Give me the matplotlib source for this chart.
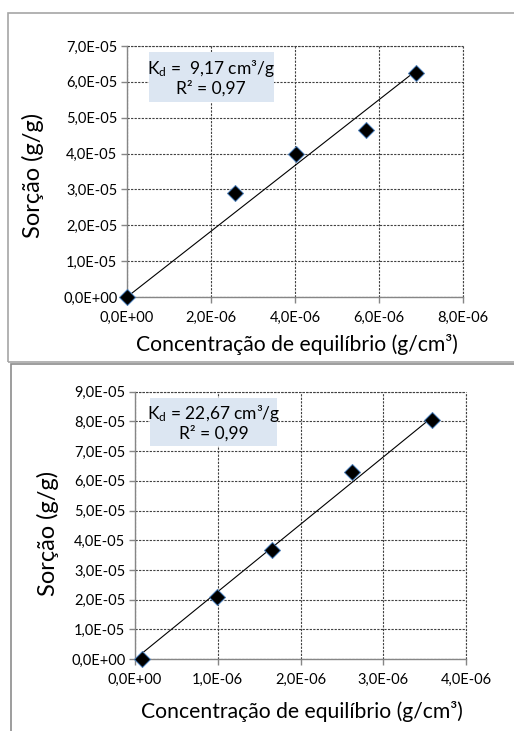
import matplotlib
matplotlib.use('Agg')
import numpy as np
import matplotlib.pyplot as plt
from matplotlib.patches import Rectangle
from matplotlib.ticker import FuncFormatter, MultipleLocator

# data
conc_top = [0.0, 2.58e-6, 4.02e-6, 5.69e-6, 6.88e-6]
sorc_top = [0.0, 2.89e-5, 3.99e-5, 4.67e-5, 6.26e-5]
kd_top = 9.17
r2_top = 0.97

conc_bot = [0.08e-6, 0.99e-6, 1.65e-6, 2.62e-6, 3.59e-6]
sorc_bot = [0.0, 2.08e-5, 3.67e-5, 6.29e-5, 8.04e-5]
kd_bot = 22.67
r2_bot = 0.99

xlabel = 'Concentração de equilíbrio (g/cm³)'
ylabel = 'Sorção (g/g)'

# fonts
plt.rcParams['font.family'] = ['Lato', 'DejaVu Sans']
plt.rcParams['mathtext.fontset'] = 'custom'
plt.rcParams['mathtext.rm'] = 'Lato'
plt.rcParams['mathtext.it'] = 'Lato'

spine_color = '#868686'
grid_color = '#404040'
box_color = '#dce6f2'


def sci_comma(v, pos):
    return f'{v:.1E}'.replace('.', ',')


def draw_panel(ax, x, y, kd, r2, xmax, xstep, ymax, ystep, kd_text, box):
    ax.set_xlim(0, xmax)
    ax.set_ylim(0, ymax)
    ax.xaxis.set_major_locator(MultipleLocator(xstep))
    ax.yaxis.set_major_locator(MultipleLocator(ystep))
    ax.xaxis.set_major_formatter(FuncFormatter(sci_comma))
    ax.yaxis.set_major_formatter(FuncFormatter(sci_comma))

    # grid incl. top/right border as dotted lines
    ax.grid(True, color=grid_color, linestyle=(0, (2, 1.2)), linewidth=0.8)
    ax.set_axisbelow(True)
    for side in ['top', 'right']:
        ax.spines[side].set_visible(False)
    ax.axhline(ymax, color=grid_color, linestyle=(0, (2, 1.2)), linewidth=0.8, clip_on=False)
    ax.axvline(xmax, color=grid_color, linestyle=(0, (2, 1.2)), linewidth=0.8, clip_on=False)
    for side in ['left', 'bottom']:
        ax.spines[side].set_color(spine_color)
        ax.spines[side].set_linewidth(1.0)
    ax.tick_params(direction='out', length=4, width=1.0, color=spine_color,
                   labelsize=10.5, labelcolor='black')
    ax.tick_params(axis='x', pad=6)
    ax.tick_params(axis='y', pad=3)

    # trend line Kd * C over data range
    xs = np.array([min(x), max(x)])
    ax.plot(xs, kd * xs, color='black', linewidth=0.8, zorder=3)
    ax.plot(x, y, linestyle='none', marker='D', markersize=8,
            markerfacecolor='black', markeredgecolor='#4a7ebb',
            markeredgewidth=0.7, zorder=4, clip_on=False)

    # label box
    bx, by, bw, bh = box
    ax.add_patch(Rectangle((bx, by), bw, bh, transform=ax.transAxes,
                           facecolor=box_color, edgecolor='none', zorder=2))
    cx = bx + bw / 2
    ax.text(cx, by + bh * 0.68, kd_text, transform=ax.transAxes,
            ha='center', va='center', fontsize=12.5, zorder=3)
    ax.text(cx, by + bh * 0.27, f'R² = {r2:.2f}'.replace('.', ','),
            transform=ax.transAxes, ha='center', va='center', fontsize=12.5, zorder=3)


fig = plt.figure(figsize=(5.14, 7.31), dpi=100)
fig.patch.set_facecolor('white')

ax1 = fig.add_axes([127 / 514, 1 - 297 / 731, 336 / 514, 251 / 731])
draw_panel(ax1, conc_top, sorc_top, kd_top, r2_top, 8e-6, 2e-6, 7e-5, 1e-5,
           r'K$_\mathrm{d}$ =  9,17 cm³/g', (0.065, 0.777, 0.372, 0.199))

ax2 = fig.add_axes([135 / 514, 1 - 659 / 731, 331 / 514, 267.3 / 731])
draw_panel(ax2, conc_bot, sorc_bot, kd_bot, r2_bot, 4e-6, 1e-6, 9e-5, 1e-5,
           r'K$_\mathrm{d}$ = 22,67 cm³/g', (0.045, 0.797, 0.384, 0.179))

# axis titles
fig.text(297 / 514, 1 - 345 / 731, xlabel, ha='center', va='center', fontsize=15.2)
fig.text(33 / 514, 1 - 175 / 731, ylabel, ha='center', va='center', fontsize=17, rotation=90)
fig.text(302 / 514, 1 - 712 / 731, xlabel, ha='center', va='center', fontsize=15.2)
fig.text(48 / 514, 1 - 533 / 731, ylabel, ha='center', va='center', fontsize=17, rotation=90)

# outer chart frames
fig.patches.append(Rectangle((8 / 514, 1 - 362 / 731), 1.0, 349 / 731,
                             transform=fig.transFigure, fill=False,
                             edgecolor='#a6a6a6', linewidth=1.2))
fig.patches.append(Rectangle((11 / 514, -0.1), 1.0, (731 - 364) / 731 + 0.1,
                             transform=fig.transFigure, fill=False,
                             edgecolor='#8c8c8c', linewidth=1.2))

fig.savefig('out.png', dpi=100)
